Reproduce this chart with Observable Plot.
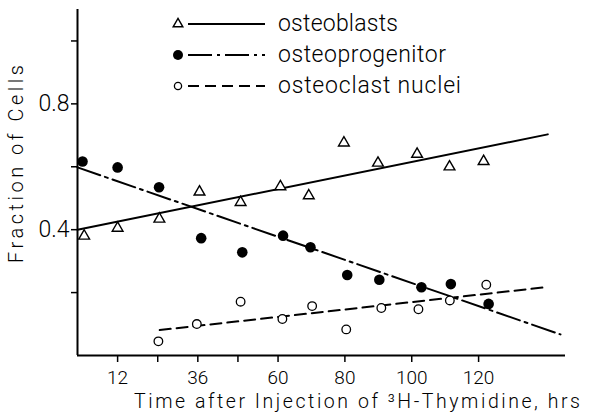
<!DOCTYPE html>
<html><head><meta charset="utf-8">
<script src="https://cdn.jsdelivr.net/npm/d3@7"></script>
<script src="https://cdn.jsdelivr.net/npm/@observablehq/plot@0.6"></script>
<style>
html,body{margin:0;padding:0;background:#fff;}
#chart{width:597px;height:417px;overflow:hidden;position:relative}
#chart svg text{font-weight:300}
</style></head><body><div id="chart"></div>
<script>
const seriesNames = ["osteoblasts", "osteoprogenitor", "osteoclast nuclei"];
// osteoblasts (open triangles)
const blastTime = [2, 12, 24.5, 36.5, 48.8, 60.7, 69.2, 79.7, 89.9, 101.6, 111.3, 121.5];
const blastFrac = [0.38, 0.405, 0.434, 0.52, 0.487, 0.537, 0.508, 0.676, 0.612, 0.64, 0.60, 0.617];
// osteoprogenitor (filled circles)
const progTime = [1.5, 12, 24.4, 37, 49.3, 61.5, 69.7, 80.7, 90.3, 102.9, 111.7, 123];
const progFrac = [0.617, 0.598, 0.535, 0.373, 0.328, 0.381, 0.344, 0.256, 0.241, 0.217, 0.227, 0.164];
// osteoclast nuclei (open circles)
const clastTime = [24.2, 35.7, 48.8, 61.3, 70.2, 80.4, 90.9, 102, 111.4, 122.3];
const clastFrac = [0.045, 0.10, 0.171, 0.116, 0.157, 0.083, 0.151, 0.147, 0.175, 0.225];
// regression lines as drawn (endpoints)
const blastFitTime = [0, 140.7], blastFitFrac = [0.40, 0.703];
const progFitTime = [0, 144.5], progFitFrac = [0.598, 0.067];
const clastFitTime = [24.6, 140], clastFitFrac = [0.081, 0.217];
// ticks
const xTicks = [12, 24, 36, 48, 60, 80, 100, 120];
const xTickLabels = ["12", "", "36", "", "60", "80", "100", "120"];
const yTicks = [0.2, 0.4, 0.6, 0.8, 1.0];
const yTickLabels = ["", "0.4", "", "0.8", ""];
const xLabel = "Time after Injection of \u00B3H-Thymidine, hrs";
const yLabel = "Fraction of Cells";

const pts = (t, f) => t.map((d, i) => ({t: d, f: f[i]}));
const xLab = new Map(xTicks.map((d, i) => [d, xTickLabels[i]]));
const yLab = new Map(yTicks.map((d, i) => [d, yTickLabels[i]]));
const FONT = "Roboto, 'DejaVu Sans', sans-serif";

const chart = Plot.plot({
  width: 597, height: 417,
  marginLeft: 77, marginRight: 32, marginTop: 9, marginBottom: 62,
  style: {fontFamily: FONT, background: "#fff", color: "#000"},
  x: {domain: [0, 146]},
  y: {domain: [0, 1.1]},
  marks: [
    Plot.axisX(xTicks, {tickSize: 7, tickPadding: 8, tickFormat: d => xLab.get(d), fontSize: 19, label: null, strokeWidth: 1.5}),
    Plot.axisY(yTicks, {tickSize: 6, tickPadding: 2, tickFormat: d => yLab.get(d), fontSize: 23, label: null, strokeWidth: 1.5}),
    Plot.ruleX([0], {stroke: "#000", strokeWidth: 2}),
    Plot.ruleY([0], {stroke: "#000", strokeWidth: 2}),
    Plot.line(pts(blastFitTime, blastFitFrac), {x: "t", y: "f", stroke: "#000", strokeWidth: 2}),
    Plot.line(pts(progFitTime, progFitFrac), {x: "t", y: "f", stroke: "#000", strokeWidth: 2, strokeDasharray: "24,5,3,5"}),
    Plot.line(pts(clastFitTime, clastFitFrac), {x: "t", y: "f", stroke: "#000", strokeWidth: 2, strokeDasharray: "11,6"}),
    Plot.dot(pts(blastTime, blastFrac), {x: "t", y: "f", symbol: "triangle", r: 4, fill: "#fff", stroke: "#000", strokeWidth: 1.4}),
    Plot.dot(pts(progTime, progFrac), {x: "t", y: "f", r: 5.3, fill: "#000", stroke: "none"}),
    Plot.dot(pts(clastTime, clastFrac), {x: "t", y: "f", r: 4.3, fill: "#fff", stroke: "#000", strokeWidth: 1.3})
  ]
});
document.getElementById("chart").appendChild(chart);

const svg = d3.select(chart);

// axis titles and legend
svg.append("text").attr("x", 134).attr("y", 408).attr("text-anchor", "start")
  .attr("font-size", 19.5).attr("font-family", FONT)
  .attr("textLength", 446).attr("lengthAdjust", "spacing").text(xLabel);
svg.append("text").attr("transform", "translate(23,164) rotate(-90)")
  .attr("text-anchor", "middle").attr("font-size", 20).attr("font-family", FONT)
  .attr("textLength", 198).attr("lengthAdjust", "spacing").text(yLabel);

const leg = svg.append("g");
const rowsY = [24, 55, 86];
const dashes = [null, "24,5,3,5", "11,6"];
const textLens = [120, 168, 183];
seriesNames.forEach((name, i) => {
  const y = rowsY[i];
  const l = leg.append("line").attr("x1", 188).attr("x2", 265).attr("y1", y).attr("y2", y)
    .attr("stroke", "#000").attr("stroke-width", 2);
  if (dashes[i]) l.attr("stroke-dasharray", dashes[i]);
  leg.append("text").attr("x", 278).attr("y", y + 6.5).attr("text-anchor", "start")
    .attr("font-size", 23).attr("font-family", FONT)
    .attr("textLength", textLens[i]).attr("lengthAdjust", "spacing").text(name);
});
leg.append("path").attr("d", d3.symbol(d3.symbolTriangle, Math.PI * 3.6 * 3.6)()).attr("transform", `translate(178,${rowsY[0]})`)
  .attr("fill", "#fff").attr("stroke", "#000").attr("stroke-width", 1.4);
leg.append("circle").attr("cx", 178).attr("cy", rowsY[1]).attr("r", 5).attr("fill", "#000");
leg.append("circle").attr("cx", 178).attr("cy", rowsY[2]).attr("r", 3.6).attr("fill", "#fff").attr("stroke", "#000").attr("stroke-width", 1.3);
</script></body></html>
